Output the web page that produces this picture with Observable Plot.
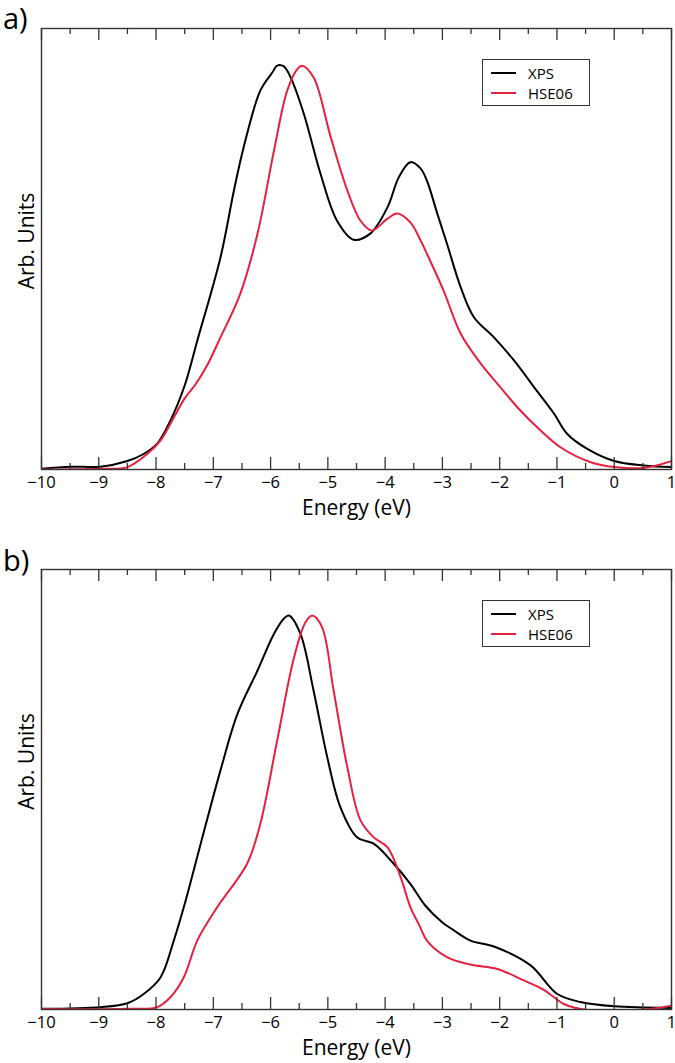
<!DOCTYPE html>
<html><head><meta charset="utf-8">
<script src="https://cdn.jsdelivr.net/npm/d3@7"></script>
<script src="https://cdn.jsdelivr.net/npm/@observablehq/plot@0.6"></script>
<style>
body{margin:0;background:#fff;font-family:"Open Sans",sans-serif;}
#wrap{position:relative;width:675px;height:1063px;overflow:hidden;background:#fff}
.panel{position:absolute;left:0}
.tag{position:absolute;left:3px;font-size:29px;line-height:1;color:#000}
.legend{position:absolute;border:1.3px solid #333;background:#fff;box-sizing:border-box}
.legend .row{position:absolute;left:0;height:18px;display:flex;align-items:center;font-size:15px;color:#000}
.legend .sw{display:inline-block;width:25px;height:0;border-top:2px solid;margin-left:8px;margin-right:12px}
</style></head>
<body><div id="wrap"></div>
<script>
// ---- data ----
const xTicksMajor = [-10, -9, -8, -7, -6, -5, -4, -3, -2, -1, 0, 1];
const xTicksMinor = [-9.5, -8.5, -7.5, -6.5, -5.5, -4.5, -3.5, -2.5, -1.5, -0.5, 0.5];
const seriesNames = ["XPS", "HSE06"];
const seriesColors = ["#000000", "#e8203f"];
const panelTags = ["a)", "b)"];

// panel a) XPS
const energyA_XPS = [-10, -9.49, -8.97, -8.5, -8.21, -7.98, -7.75, -7.5, -7.28, -6.875, -6.64, -6.47, -6.18, -5.97, -5.885, -5.77, -5.65, -5.42, -5.13, -4.84, -4.55, -4.26, -3.96, -3.76, -3.56, -3.38, -3.27, -3.09, -2.92, -2.68, -2.45, -2.10, -1.75, -1.40, -1.05, -0.82, -0.47, 0.0, 0.52, 1.0];
const xpsA = [0.2, 0.7, 0.7, 2.1, 3.9, 6.4, 12.1, 20.8, 31.9, 52.5, 69.1, 79.8, 93.8, 98.3, 100, 99.8, 97.1, 88.1, 73.3, 61.6, 56.9, 58.4, 64.9, 72.4, 76.1, 74.5, 71.5, 63.4, 55.9, 45.1, 37.7, 32.7, 27.0, 20.4, 13.8, 8.8, 5.1, 2.1, 1.0, 0.6];
// panel a) HSE06
const energyA_HSE = [-10, -8.97, -8.5, -8.15, -7.92, -7.72, -7.5, -7.3, -7.1, -6.875, -6.53, -6.23, -5.94, -5.71, -5.53, -5.45, -5.25, -4.95, -4.66, -4.43, -4.23, -3.96, -3.79, -3.56, -3.38, -3.27, -2.98, -2.68, -2.33, -1.99, -1.64, -1.29, -0.94, -0.41, 0.0, 0.52, 1.0];
const hseA = [0.0, 0.2, 0.6, 3.9, 7.2, 12.1, 17.6, 21.3, 26.0, 32.7, 43.5, 58.3, 79.0, 93.8, 99.2, 100, 97.1, 82.3, 69.1, 61.6, 59.2, 62.1, 63.4, 61.2, 56.7, 53.4, 44.3, 33.6, 26.2, 20.4, 14.6, 9.7, 5.5, 1.8, 0.6, 0.4, 2.1];

// panel b) XPS
const energyB_XPS = [-10, -8.97, -8.5, -8.21, -7.92, -7.69, -7.515, -7.22, -6.875, -6.58, -6.23, -5.94, -5.77, -5.68, -5.48, -5.25, -5.01, -4.78, -4.49, -4.20, -3.85, -3.56, -3.3, -3.0, -2.8, -2.51, -2.10, -1.46, -1.0, -0.59, 0.0, 1.0];
const xpsB = [0.2, 0.6, 1.6, 4.0, 8.2, 17.5, 26.0, 42.1, 60.7, 75.0, 86.0, 95.4, 99.2, 100, 95.4, 81.0, 64.0, 51.3, 43.7, 42.1, 37.0, 31.9, 26.4, 22.1, 20.1, 17.5, 16.0, 11.2, 4.0, 1.9, 0.8, 0.4];
// panel b) HSE06
const energyB_HSE = [-10, -8.5, -7.98, -7.75, -7.515, -7.28, -6.93, -6.41, -6.18, -5.885, -5.59, -5.39, -5.27, -5.10, -4.90, -4.66, -4.43, -4.20, -3.96, -3.73, -3.56, -3.4, -3.27, -2.92, -2.51, -2.04, -1.58, -1.23, -0.88, -0.53, 0.52, 1.0];
const hseB = [0.1, 0.2, 0.6, 3.1, 8.2, 17.5, 26.0, 37.0, 47.1, 68.3, 89.4, 98.3, 100, 97.0, 81.0, 61.5, 48.0, 43.7, 41.2, 33.6, 26.0, 21.3, 17.5, 13.3, 11.4, 10.3, 7.4, 5.0, 1.4, 0.0, 0.0, 1.0];

const toRows = (es, vs) => es.map((e, i) => ({energy: e, value: vs[i]}));

const panels = [
  {tag: panelTags[0], top: 0, height: 540, mt: 28, mb: 71, yMax: 109.2, xps: toRows(energyA_XPS, xpsA), hse: toRows(energyA_HSE, hseA), legendTop: 59, labelDy: -8, tagTop: 3},
  {tag: panelTags[1], top: 540, height: 523, mt: 29, mb: 54, yMax: 111.7, xps: toRows(energyB_XPS, xpsB), hse: toRows(energyB_HSE, hseB), legendTop: 600, labelDy: -28, tagTop: 545}
];

const wrap = document.getElementById("wrap");
const W = 675, ML = 41, MR = 4;

for (const p of panels) {
  const frameH = p.height - p.mt - p.mb;
  const chart = Plot.plot({
    width: W, height: p.height,
    marginTop: p.mt, marginBottom: p.mb, marginLeft: ML, marginRight: MR,
    style: {fontFamily: "'Open Sans', sans-serif", fontSize: "17px", color: "#000", background: "#fff"},
    x: {domain: [-10, 1], axis: null},
    y: {domain: [0, p.yMax], axis: null},
    marks: [
      Plot.line(p.xps, {x: "energy", y: "value", stroke: seriesColors[0], strokeWidth: 2, curve: "catmull-rom", clip: true}),
      Plot.line(p.hse, {x: "energy", y: "value", stroke: seriesColors[1], strokeWidth: 2, curve: "catmull-rom", clip: true}),
      // bottom ticks (inward)
      Plot.tickX(xTicksMajor, {x: d => d, insetTop: frameH - 12, stroke: "#333", strokeWidth: 1.3}),
      Plot.tickX(xTicksMinor, {x: d => d, insetTop: frameH - 6, stroke: "#333", strokeWidth: 1.3}),
      // top ticks (inward)
      Plot.tickX(xTicksMajor, {x: d => d, insetBottom: frameH - 12, stroke: "#333", strokeWidth: 1.3}),
      Plot.tickX(xTicksMinor, {x: d => d, insetBottom: frameH - 6, stroke: "#333", strokeWidth: 1.3}),
      Plot.axisX(xTicksMajor, {anchor: "bottom", tickSize: 0, tickPadding: 7, fontSize: 16.5, label: null}),
      Plot.text(["Energy (eV)"], {frameAnchor: "bottom", dy: 31, lineAnchor: "top", fontSize: 21, text: d => d}),
      Plot.text(["Arb. Units"], {frameAnchor: "left", rotate: -90, dx: -8, dy: p.labelDy, lineAnchor: "bottom", textAnchor: "middle", fontSize: 21, text: d => d}),
      Plot.frame({stroke: "#333", strokeWidth: 1.4})
    ]
  });
  const holder = document.createElement("div");
  holder.className = "panel";
  holder.style.top = p.top + "px";
  holder.appendChild(chart);
  wrap.appendChild(holder);

  const tag = document.createElement("div");
  tag.className = "tag";
  tag.style.top = p.tagTop + "px";
  tag.textContent = p.tag;
  wrap.appendChild(tag);

  const lg = document.createElement("div");
  lg.className = "legend";
  lg.style.left = "482px"; lg.style.top = p.legendTop + "px";
  lg.style.width = "108px"; lg.style.height = "47px";
  seriesNames.forEach((s, i) => {
    const row = document.createElement("div");
    row.className = "row";
    row.style.top = (4 + i * 19.5) + "px";
    const sw = document.createElement("span");
    sw.className = "sw"; sw.style.borderColor = seriesColors[i];
    const t = document.createElement("span");
    t.textContent = s;
    row.appendChild(sw); row.appendChild(t);
    lg.appendChild(row);
  });
  wrap.appendChild(lg);
}
</script>
</body></html>
